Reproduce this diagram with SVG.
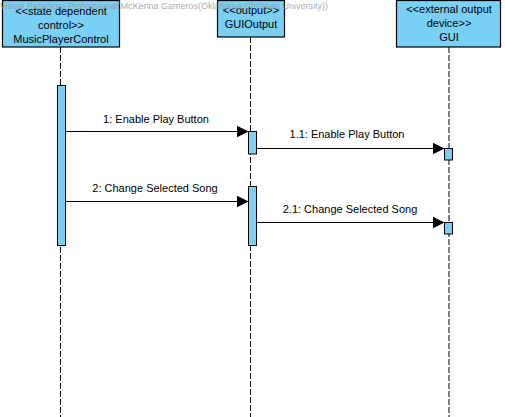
<svg xmlns="http://www.w3.org/2000/svg" width="505" height="417" viewBox="0 0 505 417">
<style>
.box{fill:#7ACFF5;stroke:#000;stroke-width:1.2}
.act{fill:#7ACFF5;stroke:#000;stroke-width:1}
.life{stroke:#000;stroke-width:1;stroke-dasharray:6,2;fill:none}
.msg{stroke:#000;stroke-width:1;fill:none}
text{font-family:"Liberation Sans",Arial,sans-serif;font-size:11px;fill:#000;text-anchor:middle}
.wm{font-size:9px;fill:#999;text-anchor:start;opacity:0.8}
</style>
<defs>
<marker id="arr" markerWidth="12" markerHeight="12" refX="12" refY="6" orient="auto" markerUnits="userSpaceOnUse">
<path d="M0,0 L12,6 L0,12 Z" fill="#000"/>
</marker>
</defs>
<rect width="505" height="417" fill="#fff"/>
<g id="lifelines">
<line class="life" x1="60.5" y1="47" x2="60.5" y2="417"/>
<line class="life" x1="250.5" y1="37" x2="250.5" y2="417"/>
<line class="life" x1="449" y1="47" x2="449" y2="417"/>
</g>
<g id="MusicPlayerControl">
<rect class="box" x="2.5" y="0.5" width="117" height="46.5"/>
<text x="61" y="15">&lt;&lt;state dependent</text>
<text x="61" y="29">control&gt;&gt;</text>
<text x="61" y="43">MusicPlayerControl</text>
<rect class="act" x="57.5" y="85.5" width="8" height="160"/>
</g>
<g id="GUIOutput">
<rect class="box" x="217.5" y="0.5" width="67" height="36.5"/>
<text x="251" y="14">&lt;&lt;output&gt;&gt;</text>
<text x="251" y="28">GUIOutput</text>
<rect class="act" x="248.5" y="131.5" width="8" height="22.5"/>
<rect class="act" x="248.5" y="186.5" width="8" height="59"/>
</g>
<g id="GUI">
<rect class="box" x="396.5" y="0.5" width="104" height="46.5"/>
<text x="449" y="13">&lt;&lt;external output</text>
<text x="449" y="27">device&gt;&gt;</text>
<text x="449" y="41">GUI</text>
<rect class="act" x="444.5" y="148.5" width="8" height="11.5"/>
<rect class="act" x="444.5" y="222.5" width="8" height="11.5"/>
</g>
<g id="connectors">
<line class="msg" x1="65.5" y1="131.5" x2="248.5" y2="131.5" marker-end="url(#arr)"/>
<text x="156" y="123">1: Enable Play Button</text>
<line class="msg" x1="256.5" y1="148.5" x2="444.5" y2="148.5" marker-end="url(#arr)"/>
<text x="347" y="138">1.1: Enable Play Button</text>
<line class="msg" x1="65.5" y1="201.5" x2="248.5" y2="201.5" marker-end="url(#arr)"/>
<text x="155" y="192">2: Change Selected Song</text>
<line class="msg" x1="256.5" y1="222.5" x2="444.5" y2="222.5" marker-end="url(#arr)"/>
<text x="350" y="213">2.1: Change Selected Song</text>
</g>
<text class="wm" x="0" y="9">Visual Paradigm Professional(McKenna Gameros(Oklahoma Christian University))</text>
</svg>
